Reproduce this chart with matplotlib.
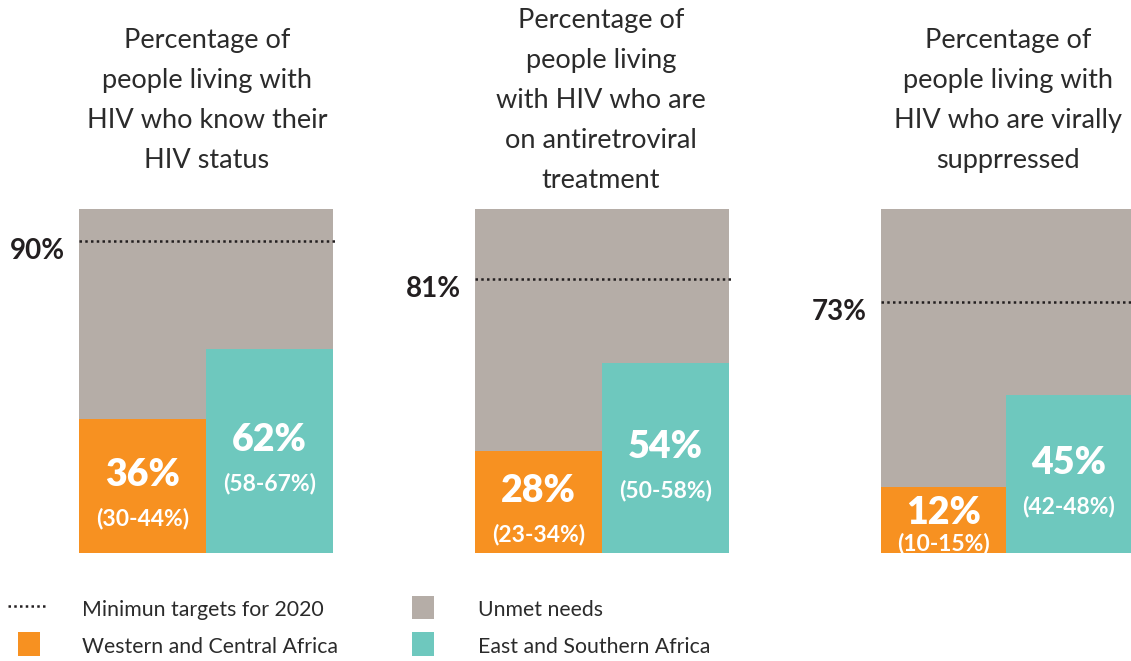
import matplotlib
matplotlib.use("Agg")
import matplotlib.pyplot as plt
from matplotlib.patches import Rectangle
from matplotlib.lines import Line2D

plt.rcParams['font.family'] = ['Lato', 'DejaVu Sans']

# ---------------- data ----------------
titles = [
    ["Percentage of", "people living with", "HIV who know their", "HIV status"],
    ["Percentage of", "people living", "with HIV who are", "on antiretroviral", "treatment"],
    ["Percentage of", "people living with", "HIV who are virally", "supprressed"],
]
target_labels = ["90%", "81%", "73%"]
target_values = [90.7, 79.7, 73.0]          # dotted line positions as drawn
wca_values = [39.0, 29.7, 19.2]             # Western and Central Africa bar heights as drawn
esa_values = [59.3, 55.2, 45.9]             # East and Southern Africa bar heights as drawn
wca_labels = ["36%", "28%", "12%"]
wca_ranges = ["(30-44%)", "(23-34%)", "(10-15%)"]
esa_labels = ["62%", "54%", "45%"]
esa_ranges = ["(58-67%)", "(50-58%)", "(42-48%)"]
legend_labels = ["Minimun targets for 2020", "Unmet needs",
                 "Western and Central Africa", "East and Southern Africa"]

# ---------------- style ----------------
GRAY = "#B5ADA7"
ORANGE = "#F79121"
TEAL = "#6EC8BE"
DARK = "#231F20"
TXT = "#2B2B2B"

W, H = 1131, 661
fig = plt.figure(figsize=(W / 100, H / 100), dpi=100)
fig.patch.set_facecolor("white")

panel_left = [79, 475, 881]
panel_width = [254, 254, 250]
panel_bottom = 553
panel_height = 344
title_first_baseline = [48, 28, 48]
title_center = [207, 601, 1008]

for i in range(3):
    l, w = panel_left[i], panel_width[i]
    ax = fig.add_axes([l / W, (H - panel_bottom) / H, w / W, panel_height / H])
    ax.set_xlim(0, 2)
    ax.set_ylim(0, 100)
    ax.axis("off")
    ax.bar([1], [100], width=2, color=GRAY, linewidth=0)
    ax.bar([0.5], [wca_values[i]], width=1, color=ORANGE, linewidth=0)
    ax.bar([1.5], [esa_values[i]], width=1, color=TEAL, linewidth=0)

    t = target_values[i]
    ax.plot([0, 2.015], [t, t], linestyle=(0, (1, 1.3)), lw=1.8, color=DARK,
            clip_on=False, solid_capstyle='butt')
    ax.annotate(target_labels[i], xy=(0, t), xycoords=('axes fraction', 'data'),
                xytext=(-14, -10), textcoords='offset pixels', ha='right', va='center',
                fontsize=20, fontweight='bold', color=DARK)

    for xc, h, lab, rng in [(0.5, wca_values[i], wca_labels[i], wca_ranges[i]),
                            (1.5, esa_values[i], esa_labels[i], esa_ranges[i])]:
        bar_px = h / 100 * panel_height
        gap = min(44, 0.47 * bar_px)
        ax.annotate(lab, xy=(xc, h / 2), xytext=(0, 0.3 * gap - 2), textcoords='offset pixels',
                    ha='center', va='center', fontsize=27, fontweight='heavy', color='white')
        ax.annotate(rng, xy=(xc, h / 2), xytext=(0, -0.7 * gap - 2), textcoords='offset pixels',
                    ha='center', va='center', fontsize=16.5, fontweight='bold', color='white')

    for k, line in enumerate(titles[i]):
        y = title_first_baseline[i] + 40 * k
        fig.text(title_center[i] / W, 1 - y / H, line, ha='center', va='baseline',
                 fontsize=19.5, fontweight='normal', color=TXT)

# ---------------- legend ----------------
lax = fig.add_axes([0, 0, 1, 1])
lax.set_xlim(0, W)
lax.set_ylim(H, 0)
lax.axis("off")
lax.add_line(Line2D([8, 48], [606, 606], linestyle=(0, (1, 1.3)), lw=1.8, color=DARK))
lax.add_patch(Rectangle((18, 632), 22, 24, color=ORANGE, lw=0))
lax.add_patch(Rectangle((412, 596), 22, 23, color=GRAY, lw=0))
lax.add_patch(Rectangle((412, 632), 22, 24, color=TEAL, lw=0))
leg_pos = [(82, 610), (478, 610), (82, 647), (478, 647)]
for (x, y), lab in zip(leg_pos, legend_labels):
    lax.text(x, y, lab, ha='left', va='center', fontsize=15.3, fontweight='normal', color=TXT)

fig.savefig("out.png", dpi=100, facecolor="white")
